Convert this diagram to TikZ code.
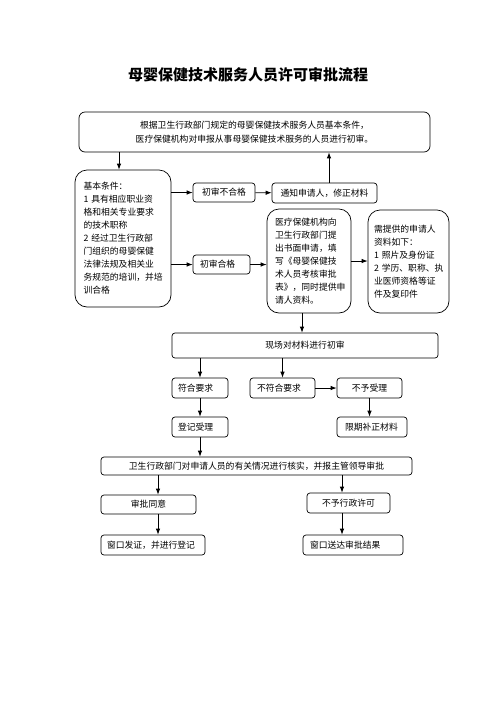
\documentclass[tikz,border=0pt]{standalone}
\usepackage{fontspec}
\setmainfont{Noto Sans CJK SC}
\usetikzlibrary{positioning,arrows.meta}

\tikzset{
  box/.style={draw, line width=0.7pt, rounded corners=3pt, inner xsep=4pt, inner ysep=0pt,
    minimum height=19pt, font=\fontsize{8.8}{13}\selectfont},
  bigbox/.style={box, rounded corners=12pt, align=left},
  arr/.style={-{Latex[length=6pt,width=4.5pt]}, line width=0.8pt}
}

\begin{document}
\begin{tikzpicture}[x=1pt, y=-1pt]
  \useasboundingbox (0,0) rectangle (496,702);

  % nodes
  \node[font=\fontsize{15}{18}\selectfont\bfseries] (title) at (248,75) {母婴保健技术服务人员许可审批流程};
  \node[box, rounded corners=6pt, minimum width=351pt, minimum height=40pt, align=center,
    font=\fontsize{8.8}{14}\selectfont] (top) at (254.5,132)
    {根据卫生行政部门规定的母婴保健技术服务人员基本条件，\\医疗保健机构对申报从事母婴保健技术服务的人员进行初审。};

  \node[bigbox, text width=79pt, inner xsep=8.5pt, minimum height=137pt] (basic) at (123,238.5)
    {基本条件：\\1~具有相应职业资\\格和相关专业要求\\的技术职称\\2~经过卫生行政部\\门组织的母婴保健\\法律法规及相关业\\务规范的培训，并培\\训合格};
  \node[box, minimum width=62pt] (fail1) at (224,192.5) {初审不合格};
  \node[box, minimum width=105pt, minimum height=20pt] (notify) at (324.5,193) {通知申请人，修正材料};
  \node[box, text width=43pt, inner xsep=7pt, align=left] (pass1) at (221.5,264.5) {初审合格};
  \node[bigbox, text width=68pt, inner xsep=8pt, minimum height=104pt] (apply) at (309,261)
    {医疗保健机构向\\卫生行政部门提\\出书面申请，填\\写《母婴保健技\\术人员考核审批\\表》，同时提供申\\请人资料。};
  \node[bigbox, text width=69pt, inner xsep=6pt, minimum height=103pt] (docs) at (408.5,261.5)
    {需提供的申请人\\资料如下：\\1~照片及身份证\\2~学历、职称、执\\业医师资格等证\\件及复印件};

  \node[box, minimum width=266pt, minimum height=25pt] (site) at (305,345.5) {现场对材料进行初审};
  \node[box, text width=44pt, inner xsep=6pt, minimum height=20pt, align=left] (meet) at (200,388) {符合要求};
  \node[box, text width=51pt, inner xsep=7pt, minimum height=20pt, align=left] (notmeet) at (282.5,388) {不符合要求};
  \node[box, minimum width=65pt, minimum height=20pt] (reject) at (369.5,388) {不予受理};
  \node[box, text width=44pt, inner xsep=6pt, minimum height=20pt, align=left] (register) at (200,427) {登记受理};
  \node[box, text width=54pt, inner xsep=8pt, minimum height=20pt, align=left] (amend) at (372,427) {限期补正材料};

  \node[box, minimum width=311pt, minimum height=18pt] (verify) at (256.5,466)
    {卫生行政部门对申请人员的有关情况进行核实，并报主管领导审批};
  \node[box, minimum width=95pt] (agree) at (148.5,504.5) {审批同意};
  \node[box, minimum width=83pt, minimum height=20pt] (deny) at (348.5,503) {不予行政许可};
  \node[box, text width=92pt, inner xsep=6pt, minimum height=20pt, align=left] (issue) at (153,545) {窗口发证，并进行登记};
  \node[box, text width=86pt, inner xsep=7pt, minimum height=20pt, align=left] (result) at (353,545) {窗口送达审批结果};

  % edges
  \draw[arr] ([xshift=-4pt]basic.north |- top.south) -- ([xshift=-4pt]basic.north);
  \draw[arr] (fail1.west -| basic.east) -- (fail1.west);
  \draw[arr] (fail1) -- (notify);
  \draw[arr] ([xshift=4.5pt]notify.north) -- ([xshift=4.5pt]notify.north |- top.south);
  \draw[arr] (pass1.west -| basic.east) -- (pass1.west);
  \draw[arr] (pass1.east) -- (pass1.east -| apply.west);
  \draw[arr] (apply.east) -- (apply.east -| docs.west);
  \draw[arr] ([xshift=-7pt]apply.south) -- ([xshift=-7pt]apply.south |- site.north);

  \draw[arr] (meet.north |- site.south) -- (meet.north);
  \draw[arr] (notmeet.north |- site.south) -- (notmeet.north);
  \draw[arr] (notmeet) -- (reject);
  \draw[arr] (meet) -- (register);
  \draw[arr] (reject.south) -- (reject.south |- amend.north);
  \draw[arr] (register.south) -- (register.south |- verify.north);

  \draw[arr] ([xshift=9.5pt]agree.north |- verify.south) -- ([xshift=9.5pt]agree.north);
  \draw[arr] ([xshift=-6.5pt]deny.north |- verify.south) -- ([xshift=-6.5pt]deny.north);
  \draw[arr] ([xshift=9.5pt]agree.south) -- ([xshift=9.5pt]agree.south |- issue.north);
  \draw[arr] ([xshift=-6.5pt]deny.south) -- ([xshift=-6.5pt]deny.south |- result.north);
\end{tikzpicture}
\end{document}
